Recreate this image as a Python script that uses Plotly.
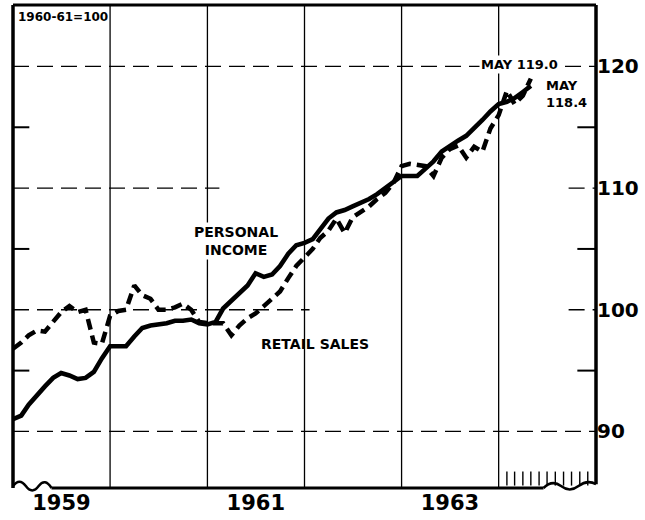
import pandas as pd
import plotly.graph_objects as go

# ---------------- data ----------------
START_MONTH = "1959-01-01"
N_MONTHS = 65  # Jan 1959 .. May 1964

personal_income = [
    91.0, 91.3, 92.2, 93.0, 93.7, 94.4, 94.8, 94.6, 94.3, 94.4, 94.9, 96.0,
    97.0, 97.0, 97.0, 97.8, 98.5, 98.7, 98.8, 98.9, 99.1, 99.1, 99.2, 98.9,
    98.8, 99.0, 100.1, 100.7, 101.3, 102.0, 103.0, 102.7, 102.9, 103.6, 104.6, 105.3,
    105.5, 105.8, 106.6, 107.5, 108.0, 108.2, 108.5, 108.8, 109.1, 109.5, 110.0, 110.5,
    111.0, 111.0, 111.0, 111.6, 112.2, 113.0, 113.5, 113.9, 114.3, 114.9, 115.6, 116.3,
    116.9, 117.1, 117.4, 117.9, 118.4,
]

retail_sales = [
    96.8, 97.3, 97.9, 98.3, 98.2, 99.0, 99.8, 100.3, 99.8, 100.0, 97.3, 97.2,
    99.5, 99.9, 100.0, 102.0, 101.2, 100.9, 100.0, 100.0, 100.2, 100.5, 100.0, 99.0,
    98.9, 98.9, 98.9, 97.9, 98.7, 99.3, 99.7, 100.3, 100.9, 101.5, 102.6, 103.6,
    104.3, 105.0, 105.9, 106.5, 107.5, 106.3, 107.6, 108.1, 108.5, 109.1, 109.6, 110.4,
    111.8, 112.0, 111.9, 111.8, 111.0, 112.5, 113.2, 113.5, 112.5, 113.4, 113.0, 114.9,
    116.0, 118.0, 116.9, 117.6, 119.0,
]

year_labels = ["1959", "1961", "1963"]
year_label_pos = ["1959-07-02", "1961-07-02", "1963-07-02"]
year_boundaries = ["1960-01-01", "1961-01-01", "1962-01-01", "1963-01-01", "1964-01-01"]
month_ticks_1964 = ["1964-02-01", "1964-03-01", "1964-04-01", "1964-05-01", "1964-06-01",
                    "1964-07-01", "1964-08-01", "1964-09-01", "1964-10-01", "1964-11-01",
                    "1964-12-01"]
y_ticks = [90, 100, 110, 120]
y_minor = [95, 105, 115]

X_RANGE = ["1959-01-01", "1965-01-01"]
Y_RANGE = [85.35, 125.05]

months = pd.date_range(START_MONTH, periods=N_MONTHS, freq="MS")

FONT = "DejaVu Sans"

fig = go.Figure()
fig.add_trace(go.Scatter(
    x=months, y=retail_sales, mode="lines", name="Retail sales",
    line=dict(color="black", width=4.5, dash="11px,6px"),
    hoverinfo="skip",
))
fig.add_trace(go.Scatter(
    x=months, y=personal_income, mode="lines", name="Personal income",
    line=dict(color="black", width=4.6),
    hoverinfo="skip",
))

shapes = []
# vertical year grid lines
for d in year_boundaries:
    shapes.append(dict(type="line", xref="x", yref="paper", x0=d, x1=d, y0=0, y1=1,
                       line=dict(color="black", width=1.3), layer="below"))
# horizontal dashed grid lines (full and partial as in print)
hgrid_segments = [
    (120, "1959-01-01", "1965-01-01"),
    (90, "1959-01-01", "1965-01-01"),
    (110, "1959-01-01", "1961-02-15"),
    (110, "1964-09-20", "1965-01-01"),
    (100, "1959-01-01", "1962-01-20"),
    (100, "1964-09-20", "1965-01-01"),
]
for yv, xa, xb in hgrid_segments:
    shapes.append(dict(type="line", xref="x", yref="y", x0=xa, x1=xb, y0=yv, y1=yv,
                       line=dict(color="black", width=1.3, dash="16px,8px"), layer="below"))
# minor ticks inside left/right border
for yv in y_minor:
    shapes.append(dict(type="line", xref="paper", yref="y", x0=0, x1=0.028, y0=yv, y1=yv,
                       line=dict(color="black", width=2), layer="above"))
    shapes.append(dict(type="line", xref="paper", yref="y", x0=0.968, x1=1, y0=yv, y1=yv,
                       line=dict(color="black", width=2), layer="above"))
# monthly ticks for 1964
for d in month_ticks_1964:
    shapes.append(dict(type="line", xref="x", yref="paper", x0=d, x1=d, y0=0.005, y1=0.034,
                       line=dict(color="black", width=1.4), layer="above"))
# frame: left, top, right
shapes.append(dict(type="line", xref="paper", yref="paper", x0=0, x1=0, y0=0, y1=1,
                   line=dict(color="black", width=3.5), layer="above"))
shapes.append(dict(type="line", xref="paper", yref="paper", x0=0, x1=1, y0=1, y1=1,
                   line=dict(color="black", width=3), layer="above"))
shapes.append(dict(type="line", xref="paper", yref="paper", x0=1, x1=1, y0=0.008, y1=1,
                   line=dict(color="black", width=3.5), layer="above"))
# bottom with wavy breaks
shapes.append(dict(type="line", xref="paper", yref="paper", x0=0.066, x1=0.91, y0=0, y1=0,
                   line=dict(color="black", width=3), layer="above"))
shapes.append(dict(type="path", xref="paper", yref="paper",
                   path="M 0,0.004 Q 0.011,0.022 0.022,0.004 T 0.044,0.004 T 0.066,0.0",
                   line=dict(color="black", width=2.5), layer="above"))
shapes.append(dict(type="path", xref="paper", yref="paper",
                   path="M 0.91,0.0 Q 0.925,0.018 0.94,0.004 T 0.97,0.004 T 1.0,0.008",
                   line=dict(color="black", width=2.5), layer="above"))

annotations = [
    dict(xref="paper", yref="paper", x=0.006, y=0.975, xanchor="left", yanchor="middle",
         text="<b>1960-61=100</b>", showarrow=False,
         font=dict(family=FONT, size=12, color="black")),
    dict(xref="x", yref="y", x="1961-04-20", y=105.65, xanchor="center", yanchor="middle",
         text="<b>PERSONAL<br>INCOME</b>", showarrow=False,
         font=dict(family=FONT, size=14, color="black"), bgcolor="white"),
    dict(xref="x", yref="y", x="1962-02-09", y=97.2, xanchor="center", yanchor="middle",
         text="<b>RETAIL SALES</b>", showarrow=False,
         font=dict(family=FONT, size=14, color="black")),
    dict(xref="x", yref="y", x="1963-10-19", y=120.15, xanchor="left", yanchor="middle",
         text="<b>MAY 119.0</b>", showarrow=False, bgcolor="white",
         font=dict(family=FONT, size=13, color="black")),
    dict(xref="x", yref="y", x="1964-06-18", y=117.7, xanchor="left", yanchor="middle",
         text="<b>MAY<br>118.4</b>", showarrow=False, align="left",
         font=dict(family=FONT, size=13, color="black")),
]

fig.update_layout(
    width=645, height=520, autosize=False,
    margin=dict(l=13, r=49, t=5, b=28, pad=0),
    paper_bgcolor="white", plot_bgcolor="white",
    showlegend=False,
    shapes=shapes,
    annotations=annotations,
    xaxis=dict(type="date", range=X_RANGE, tickmode="array", tickvals=year_label_pos,
               ticktext=year_labels, showgrid=False, zeroline=False, showline=False,
               ticks="", tickfont=dict(family=FONT, size=21, color="black", weight="bold")),
    yaxis=dict(range=Y_RANGE, side="right", tickmode="array", tickvals=y_ticks,
               showgrid=False, zeroline=False, showline=False, ticks="",
               tickfont=dict(family=FONT, size=20, color="black", weight="bold")),
)

fig.write_html("out.html", config={"displayModeBar": False},
               post_script="document.body.style.margin='0';document.body.style.overflow='hidden';")
